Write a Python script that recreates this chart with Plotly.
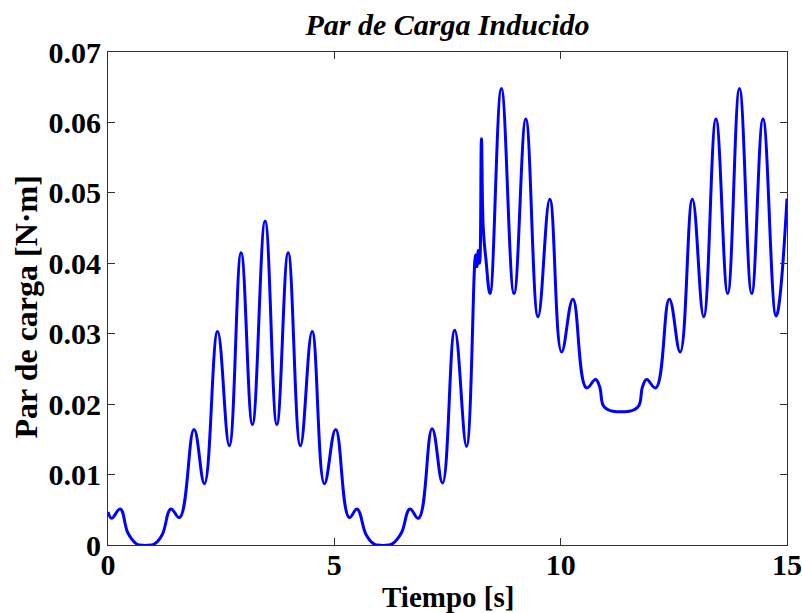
import plotly.graph_objects as go

# Time [s] and induced load torque [N·m]
tiempo = [0.00, 0.08, 0.27, 0.44, 0.62, 0.70, 0.95, 1.04, 1.20, 1.39, 1.58,
          1.90, 2.13, 2.42, 2.68, 2.94, 3.19, 3.47, 3.73, 3.98, 4.25, 4.51,
          4.78, 5.03, 5.33, 5.50, 5.70, 5.86, 5.95, 6.20, 6.29, 6.48, 6.67,
          6.86, 7.16, 7.39, 7.66, 7.92, 8.12, 8.15, 8.18, 8.21, 8.25, 8.29,
          8.35, 8.44, 8.69, 8.97, 9.23, 9.50, 9.76, 10.02, 10.27, 10.57,
          10.77, 10.86, 10.94, 11.05, 11.15, 11.52, 11.62, 11.73, 11.81,
          11.90, 12.10, 12.40, 12.64, 12.91, 13.16, 13.43, 13.69, 13.95,
          14.22, 14.47, 14.76, 15.00]
par_carga = [0.0047, 0.0038, 0.0051, 0.0017, 0.0002, 0.0000, 0.0000, 0.0002,
             0.0015, 0.0051, 0.0039, 0.0164, 0.0087, 0.0303, 0.0141, 0.0415,
             0.0171, 0.0460, 0.0171, 0.0415, 0.0141, 0.0303, 0.0087, 0.0164,
             0.0039, 0.0051, 0.0015, 0.0002, 0.0000, 0.0000, 0.0002, 0.0017,
             0.0051, 0.0038, 0.0165, 0.0088, 0.0305, 0.0140, 0.0412, 0.0395,
             0.0418, 0.0400, 0.0577, 0.0450, 0.0405, 0.0357, 0.0648, 0.0357,
             0.0605, 0.0324, 0.0491, 0.0274, 0.0349, 0.0223, 0.0235, 0.0225,
             0.0198, 0.0192, 0.0190, 0.0190, 0.0192, 0.0198, 0.0225, 0.0235,
             0.0223, 0.0349, 0.0274, 0.0491, 0.0324, 0.0605, 0.0357, 0.0648,
             0.0357, 0.0605, 0.0325, 0.0492]

x_ticks = [0, 5, 10, 15]
y_ticks = [0, 0.01, 0.02, 0.03, 0.04, 0.05, 0.06, 0.07]
y_tick_text = ["0", "0.01", "0.02", "0.03", "0.04", "0.05", "0.06", "0.07"]

SERIF = "Liberation Serif, Times New Roman, serif"

fig = go.Figure()
fig.add_trace(go.Scatter(
    x=tiempo, y=par_carga, mode="lines",
    line=dict(color="#0000FF", width=3, shape="spline", smoothing=1.2),
    showlegend=False, hoverinfo="skip",
))

axis_common = dict(
    showgrid=False, zeroline=False, showline=True, linecolor="#333333",
    linewidth=1, mirror="ticks", ticks="inside", ticklen=7, tickwidth=1,
    tickcolor="#333333", ticklabeloverflow="allow", automargin=False,
    tickfont=dict(family=SERIF, size=30, color="black", weight="bold"),
)

fig.update_layout(
    width=802, height=613,
    margin=dict(l=108, r=15, t=52, b=68, autoexpand=False),
    paper_bgcolor="white", plot_bgcolor="white",
    xaxis=dict(range=[0, 15], tickvals=x_ticks, ticktext=[str(v) for v in x_ticks],
               ticklabelstandoff=-7, **axis_common),
    yaxis=dict(range=[0, 0.07], tickvals=y_ticks, ticktext=y_tick_text,
               **axis_common),
    title=dict(text="<b><i>Par de Carga Inducido</i></b>", x=0.5, xref="paper",
               xanchor="center", y=1 - 24 / 613, yref="container",
               yanchor="middle",
               font=dict(family=SERIF, size=30, color="black")),
    annotations=[
        dict(text="<b>Tiempo [s]</b>", xref="paper", yref="paper", x=0.5, y=0,
             yshift=-52, xanchor="center", yanchor="middle", showarrow=False,
             font=dict(family=SERIF, size=29, color="black")),
        dict(text="<b>Par de carga [N·m]</b>", xref="paper", yref="paper",
             x=0, y=0.5, xshift=-83, yshift=-9, xanchor="center",
             yanchor="middle", textangle=-90, showarrow=False,
             font=dict(family=SERIF, size=32, color="black")),
    ],
)

fig.write_html("out.html", config={"displayModeBar": False},
               post_script="document.body.style.margin='0px';")
